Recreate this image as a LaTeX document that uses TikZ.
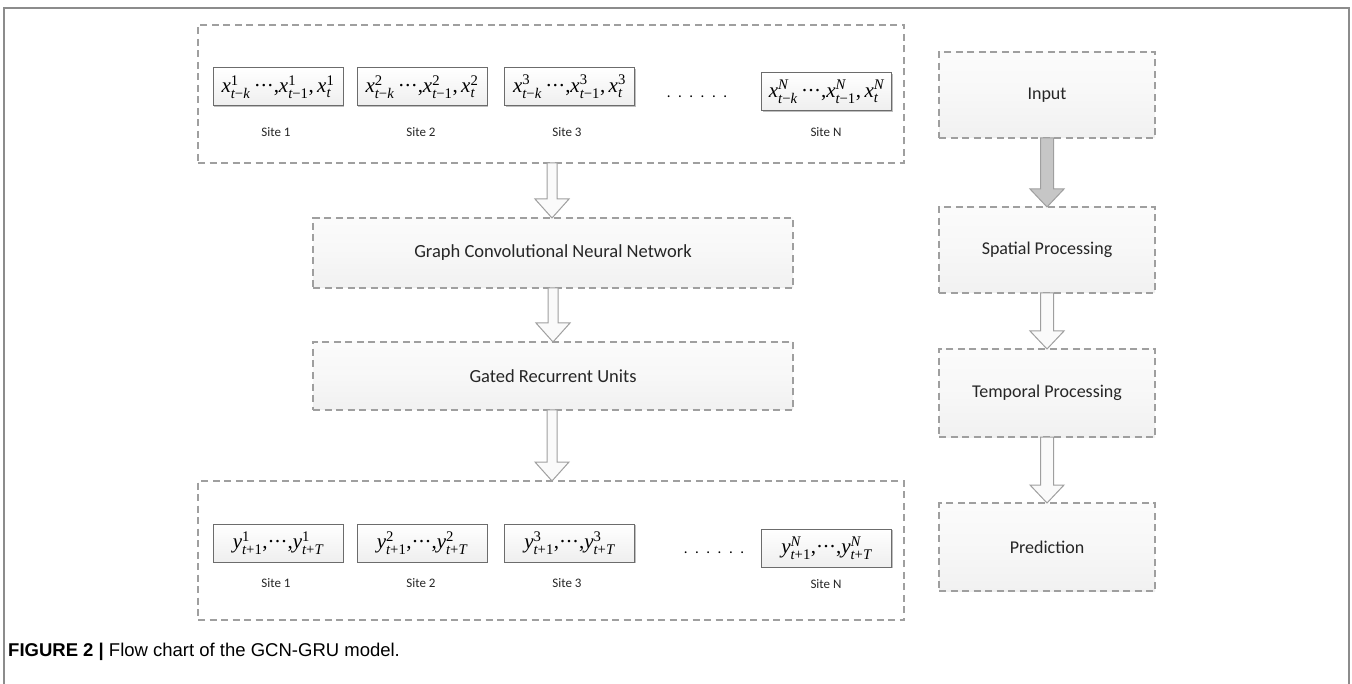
\documentclass[tikz,border=0pt]{standalone}
\usepackage{amsmath}
\usepackage{fontspec}
\setmainfont{Carlito}
\newfontfamily\capfont{Liberation Sans}
\newfontfamily\tms{Liberation Serif}
\newcommand\mi[1]{\text{\tms\itshape #1}}
\newcommand\mr[1]{\text{\tms #1}}
\newcommand\mminus{\mr{\char"2212}}
\newcommand\mplus{\mr{+}}
\newcommand\mdots{\mr{\char"00B7\kern-0.5pt\char"00B7\kern-0.5pt\char"00B7}}
\newcommand\xseq[1]{$\mi{x}^{\mr{#1}}_{\mi{t}\mminus\mi{k}}\,\mdots\mr{,}\mi{x}^{\mr{#1}}_{\mi{t}\mminus\mr{1}}\mr{,}\,\mi{x}^{\mr{#1}}_{\mi{t}}$}
\newcommand\yseq[1]{$\mi{y}^{\mr{#1}}_{\mi{t}\mplus\mr{1}}\mr{,}\mdots\mr{,}\mi{y}^{\mr{#1}}_{\mi{t}\mplus\mi{T}}$}
\newcommand\xseqN{$\mi{x}^{\mi{N}}_{\mi{t}\mminus\mi{k}}\,\mdots\mr{,}\mi{x}^{\mi{N}}_{\mi{t}\mminus\mr{1}}\mr{,}\,\mi{x}^{\mi{N}}_{\mi{t}}$}
\newcommand\yseqN{$\mi{y}^{\mi{N}}_{\mi{t}\mplus\mr{1}}\mr{,}\mdots\mr{,}\mi{y}^{\mi{N}}_{\mi{t}\mplus\mi{T}}$}
\usetikzlibrary{calc,shadows}
\tikzset{
  dbox/.style={draw=gray!75, line width=1.1pt, dash pattern=on 7pt off 4.5pt,
    top color=gray!3, bottom color=gray!11, middle color=gray!6,
    inner sep=0pt, outer sep=0pt},
  plainbox/.style={draw=gray!75, line width=1.1pt, dash pattern=on 7pt off 4.5pt,
    fill=white, inner sep=0pt, outer sep=0pt},
  label15/.style={font=\fontsize{18.5}{22}\selectfont, text=black!85},
  rlabel/.style={font=\fontsize{18}{22}\selectfont, text=black!85},
  sbox/.style={draw=gray!85!black, line width=1pt, top color=white, bottom color=gray!13,
    drop shadow={shadow xshift=1.2pt, shadow yshift=-1.2pt, opacity=0.25, fill=black},
    minimum width=130pt, minimum height=38pt, inner sep=0pt, outer sep=0pt,
    font=\fontsize{21}{24}\selectfont},
  site/.style={font=\fontsize{13}{15}\selectfont, text=black!85, inner sep=0pt},
  dots/.style={font=\fontsize{15}{18}\selectfont, inner sep=0pt},
  harrow/.style={draw=gray!75, line width=1pt, fill=gray!4, line join=miter},
  darrow/.style={draw=gray!75, line width=1pt, fill=gray!45, line join=miter},
}
\newcommand\blockarr[6]{%
  \path[#1] let \p1=($(#2.south)!0.5!(#3.north)$), \p2=(#2.south), \p3=(#3.north) in
    (\x1-#4,\y2) -- (\x1-#4,\y3+#6) -- (\x1-#5,\y3+#6) -- (\x1,\y3)
    -- (\x1+#5,\y3+#6) -- (\x1+#4,\y3+#6) -- (\x1+#4,\y2) -- cycle;}
\begin{document}
\begin{tikzpicture}[x=1pt,y=-1pt]
\useasboundingbox (0,0) rectangle (1352,684);
% outer frame
\draw[gray!90, line width=1.4pt] (4,690) -- (4,8) -- (1349,8) -- (1349,690);

% left column
\node[plainbox, minimum width=706pt, minimum height=138pt] (top) at (551,94) {};
\node[dbox, label15, minimum width=480pt, minimum height=70pt] (gcn) at (553,253) {Graph Convolutional Neural Network};
\node[dbox, label15, minimum width=480pt, minimum height=68pt] (gru) at (553,376) {Gated Recurrent Units};
\node[plainbox, minimum width=706pt, minimum height=139pt] (bot) at (551,550.5) {};

% input sites
\node[sbox] (x1) at (278,87) {\xseq{1}};
\node[sbox] (x2) at (422,87) {\xseq{2}};
\node[sbox] (x3) at (569.5,87) {\xseq{3}};
\node[sbox] (xN) at (826.5,92) {\xseqN};
\node[site] (s1) at (276,132) {Site 1};
\node[site] (s2) at (421,132) {Site 2};
\node[site] (s3) at (567,132) {Site 3};
\node[site] (sN) at (826,132) {Site N};
\node[dots] (d1) at (697,97) {.\hspace{7.5pt}.\hspace{7.5pt}.\hspace{7.5pt}.\hspace{7.5pt}.\hspace{7.5pt}.};

% output sites
\node[sbox] (y1) at (278,543) {\yseq{1}};
\node[sbox] (y2) at (422,543) {\yseq{2}};
\node[sbox] (y3) at (569.5,543) {\yseq{3}};
\node[sbox] (yN) at (826.5,548) {\yseqN};
\node[site] (t1) at (276,583) {Site 1};
\node[site] (t2) at (421,583) {Site 2};
\node[site] (t3) at (567,583) {Site 3};
\node[site] (tN) at (826,584) {Site N};
\node[dots] (d2) at (714,553) {.\hspace{7.5pt}.\hspace{7.5pt}.\hspace{7.5pt}.\hspace{7.5pt}.\hspace{7.5pt}.};

% right column
\node[dbox, rlabel, minimum width=216pt, minimum height=86pt] (inp) at (1047,95) {Input};
\node[dbox, rlabel, minimum width=216pt, minimum height=86pt] (spa) at (1047,250) {Spatial Processing};
\node[dbox, rlabel, minimum width=216pt, minimum height=88pt] (tem) at (1047,393) {Temporal Processing};
\node[dbox, rlabel, minimum width=216pt, minimum height=88pt] (pre) at (1047,547) {Prediction};

% arrows
\blockarr{harrow}{top}{gcn}{5}{17}{19}
\blockarr{harrow}{gcn}{gru}{5}{17}{19}
\blockarr{harrow}{gru}{bot}{5}{17}{19}
\blockarr{darrow}{inp}{spa}{6.5}{17}{18}
\blockarr{harrow}{spa}{tem}{6.5}{17}{18}
\blockarr{harrow}{tem}{pre}{6.5}{17}{18}

% caption
\node[anchor=west, inner sep=0pt, font=\capfont\fontsize{18.5}{22}\selectfont] (cap) at (8,652)
  {\textbf{FIGURE 2 |} Flow chart of the GCN-GRU model.};
\end{tikzpicture}
\end{document}
